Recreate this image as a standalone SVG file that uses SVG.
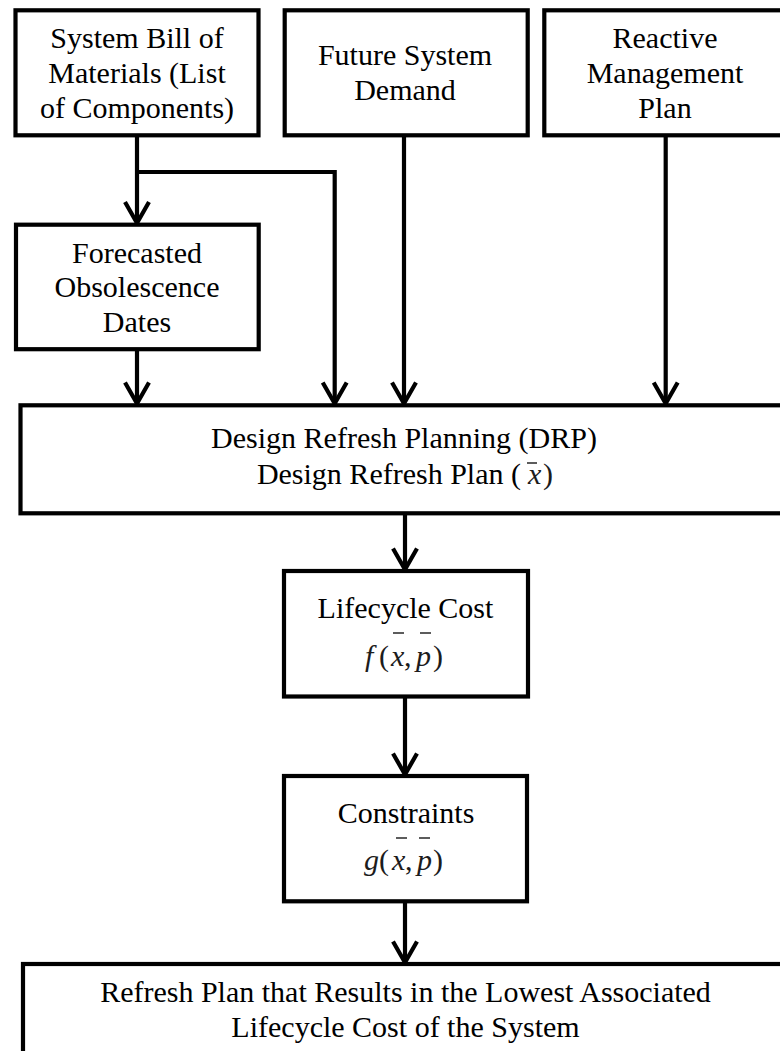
<svg xmlns="http://www.w3.org/2000/svg" width="780" height="1051" viewBox="0 0 780 1051">
<style>
.box{fill:#fff;stroke:#000;stroke-width:4.2}
.t{font-family:"Liberation Serif","Times New Roman",serif;font-size:30px;fill:#000;text-anchor:middle}
.m{font-family:"Liberation Serif","Times New Roman",serif;font-size:30px;fill:#1c1c1c;font-style:italic}
.p{font-family:"Liberation Serif","Times New Roman",serif;font-size:30px;fill:#1c1c1c}
.bar{stroke:#333;stroke-width:1.6}
.c{fill:none;stroke:#000;stroke-width:4.2}
</style>
<defs>
<marker id="ah" viewBox="0 0 26 28" refX="23" refY="14" markerWidth="26" markerHeight="28" markerUnits="userSpaceOnUse" orient="auto">
<path d="M2,2 L23,14 L2,26" fill="none" stroke="#000" stroke-width="4.2" stroke-linejoin="miter"/>
</marker>
</defs>
<rect width="780" height="1051" fill="#fff"/>
<g id="sbom">
<rect class="box" x="15.5" y="10.3" width="243" height="125"/>
<text class="t" x="137" y="48.3">System Bill of</text>
<text class="t" x="137" y="83.3">Materials (List</text>
<text class="t" x="137" y="118.3">of Components)</text>
</g>
<g id="demand">
<rect class="box" x="284.7" y="10.3" width="243" height="125"/>
<text class="t" x="405" y="65">Future System</text>
<text class="t" x="405" y="100">Demand</text>
</g>
<g id="reactive">
<rect class="box" x="544.3" y="10.3" width="260" height="125"/>
<text class="t" x="665" y="48.3">Reactive</text>
<text class="t" x="665" y="83.3">Management</text>
<text class="t" x="665" y="118.3">Plan</text>
</g>
<g id="forecast">
<rect class="box" x="16" y="224.7" width="242.7" height="124.5"/>
<text class="t" x="137" y="262.7">Forecasted</text>
<text class="t" x="137" y="296.7">Obsolescence</text>
<text class="t" x="137" y="331.7">Dates</text>
</g>
<g id="drp">
<rect class="box" x="20.5" y="405.3" width="800" height="108"/>
<text class="t" x="404" y="448">Design Refresh Planning (DRP)</text>
<text class="t" x="521" y="484" style="text-anchor:end">Design Refresh Plan (</text>
<text class="m" x="528" y="484">x</text>
<text class="p" x="543" y="484">)</text>
<line class="bar" x1="527" y1="463" x2="537" y2="463"/>
</g>
<g id="lifecycle">
<rect class="box" x="284" y="571" width="244" height="125.5"/>
<text class="t" x="405.5" y="618">Lifecycle Cost</text>
<text class="m" x="365" y="666">f</text>
<text class="p" x="379" y="666">(</text>
<text class="m" x="391" y="666">x</text>
<text class="p" x="404" y="666">,</text>
<text class="m" x="416" y="666">p</text>
<text class="p" x="433" y="666">)</text>
<line class="bar" x1="393" y1="633" x2="404" y2="633"/>
<line class="bar" x1="420" y1="633" x2="431" y2="633"/>
</g>
<g id="constraints">
<rect class="box" x="284" y="776" width="243" height="125.3"/>
<text class="t" x="406" y="823">Constraints</text>
<text class="m" x="364" y="870">g</text>
<text class="p" x="379" y="870">(</text>
<text class="m" x="392" y="870">x</text>
<text class="p" x="405" y="870">,</text>
<text class="m" x="417" y="870">p</text>
<text class="p" x="433" y="870">)</text>
<line class="bar" x1="396" y1="838" x2="407" y2="838"/>
<line class="bar" x1="419" y1="838" x2="430" y2="838"/>
</g>
<g id="result">
<rect class="box" x="23" y="964" width="800" height="200"/>
<text class="t" x="405.5" y="1002">Refresh Plan that Results in the Lowest Associated</text>
<text class="t" x="405.5" y="1037">Lifecycle Cost of the System</text>
</g>
<g id="connectors">
<line class="c" x1="137" y1="135.3" x2="137" y2="223" marker-end="url(#ah)"/>
<polyline class="c" points="137,172 334.7,172 334.7,403.5" marker-end="url(#ah)"/>
<line class="c" x1="137" y1="349" x2="137" y2="403.5" marker-end="url(#ah)"/>
<line class="c" x1="404" y1="135.3" x2="404" y2="403.5" marker-end="url(#ah)"/>
<line class="c" x1="665.7" y1="135.3" x2="665.7" y2="403.5" marker-end="url(#ah)"/>
<line class="c" x1="405" y1="513.3" x2="405" y2="569.5" marker-end="url(#ah)"/>
<line class="c" x1="405" y1="696.5" x2="405" y2="774.5" marker-end="url(#ah)"/>
<line class="c" x1="405" y1="901.3" x2="405" y2="962.5" marker-end="url(#ah)"/>
</g>
</svg>
